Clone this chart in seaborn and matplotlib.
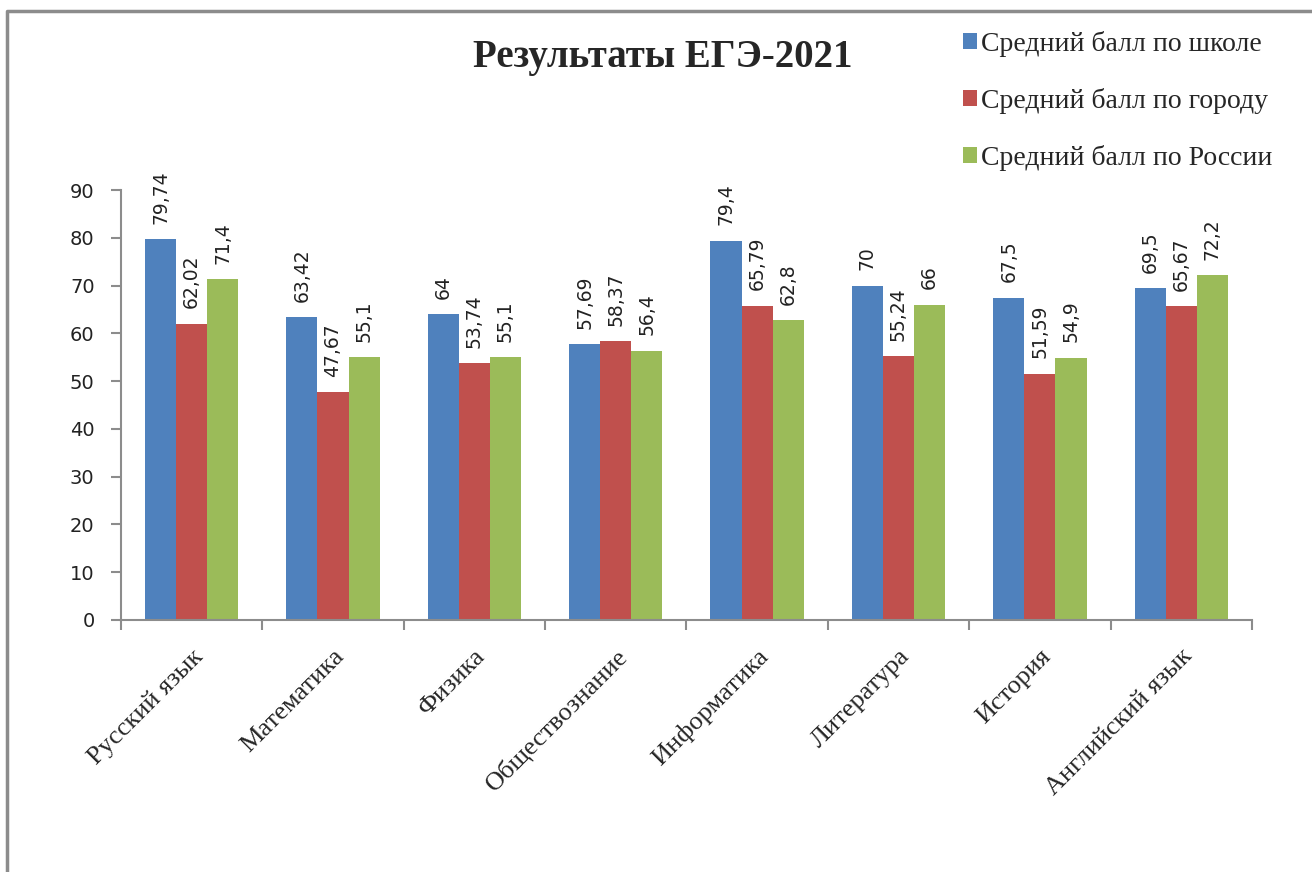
import pandas as pd
import matplotlib
matplotlib.use("Agg")
import matplotlib.pyplot as plt
from matplotlib.lines import Line2D
from matplotlib.patches import Patch
import seaborn as sns

# === Datos ===
subjects = ["Русский язык", "Математика", "Физика", "Обществознание",
            "Информатика", "Литература", "История", "Английский язык"]
series = ["Средний балл по школе", "Средний балл по городу", "Средний балл по России"]
school = [79.74, 63.42, 64, 57.69, 79.4, 70, 67.5, 69.5]
city = [62.02, 47.67, 53.74, 58.37, 65.79, 55.24, 51.59, 65.67]
russia = [71.4, 55.1, 55.1, 56.4, 62.8, 66, 54.9, 72.2]
colors = ["#4F81BD", "#C0504D", "#9BBB59"]

df = pd.DataFrame({
    "subject": subjects * 3,
    "series": [series[0]] * 8 + [series[1]] * 8 + [series[2]] * 8,
    "score": school + city + russia,
})

sns.set_style("white")
plt.rcParams["font.family"] = ["DejaVu Sans"]
SERIF = ["Liberation Serif", "DejaVu Serif"]

fig = plt.figure(figsize=(13.12, 8.72), dpi=100)
ax = fig.add_axes([0.0922, 0.289, 0.862, 0.493])

sns.barplot(data=df, x="subject", y="score", hue="series", order=subjects,
            hue_order=series, palette=colors, width=0.66, saturation=1,
            linewidth=0, ax=ax, legend=False)

# Etiquetas de datos con coma decimal
for cont in ax.containers:
    labels = [f"{b.get_height():g}".replace(".", ",") for b in cont]
    ax.bar_label(cont, labels=labels, rotation=90, padding=11, fontsize=13.5,
                 color="#222222")

ax.set_ylim(0, 90)
ax.set_xlim(-0.5, 7.5)
ax.set_yticks(range(0, 91, 10))
ax.set_xticks([i - 0.5 for i in range(9)])
ax.set_xticklabels([])
ax.set_xticks(range(8), minor=True)
ax.set_xticklabels(subjects, minor=True, rotation=45, ha="right",
                   rotation_mode="anchor", family=SERIF, fontsize=19)
ax.tick_params(axis="x", which="minor", length=0, pad=18)
ax.tick_params(axis="x", which="major", length=7, width=1.5, color="#8c8c8c",
               direction="out", bottom=True)
ax.tick_params(axis="y", length=7, width=1.5, color="#8c8c8c", direction="out",
               left=True, labelsize=14, pad=12, labelcolor="#222222")
ax.set_xlabel("")
ax.set_ylabel("")
for s in ["top", "right"]:
    ax.spines[s].set_visible(False)
for s in ["left", "bottom"]:
    ax.spines[s].set_color("#8c8c8c")
    ax.spines[s].set_linewidth(1.5)

fig.text(0.505, 0.934, "Результаты ЕГЭ-2021", ha="center", va="center",
         family=SERIF, fontsize=28, fontweight="bold")

handles = [Patch(facecolor=c, edgecolor="none") for c in colors]
fig.legend(handles, series, loc="upper left", bbox_to_anchor=(0.734, 0.9645),
           frameon=False, prop={"family": SERIF, "size": 20},
           handlelength=0.5, handleheight=0.5, handletextpad=0.15,
           labelspacing=1.12, borderpad=0, borderaxespad=0)

# Marco del gráfico (solo izquierda y arriba visibles)
fig.add_artist(Line2D([7 / 1312, 7 / 1312, 1.0], [0.0, 1 - 11 / 872, 1 - 11 / 872],
                      transform=fig.transFigure, color="#8c8c8c", linewidth=2.5))

fig.savefig("out.png", dpi=100)
plt.close(fig)
